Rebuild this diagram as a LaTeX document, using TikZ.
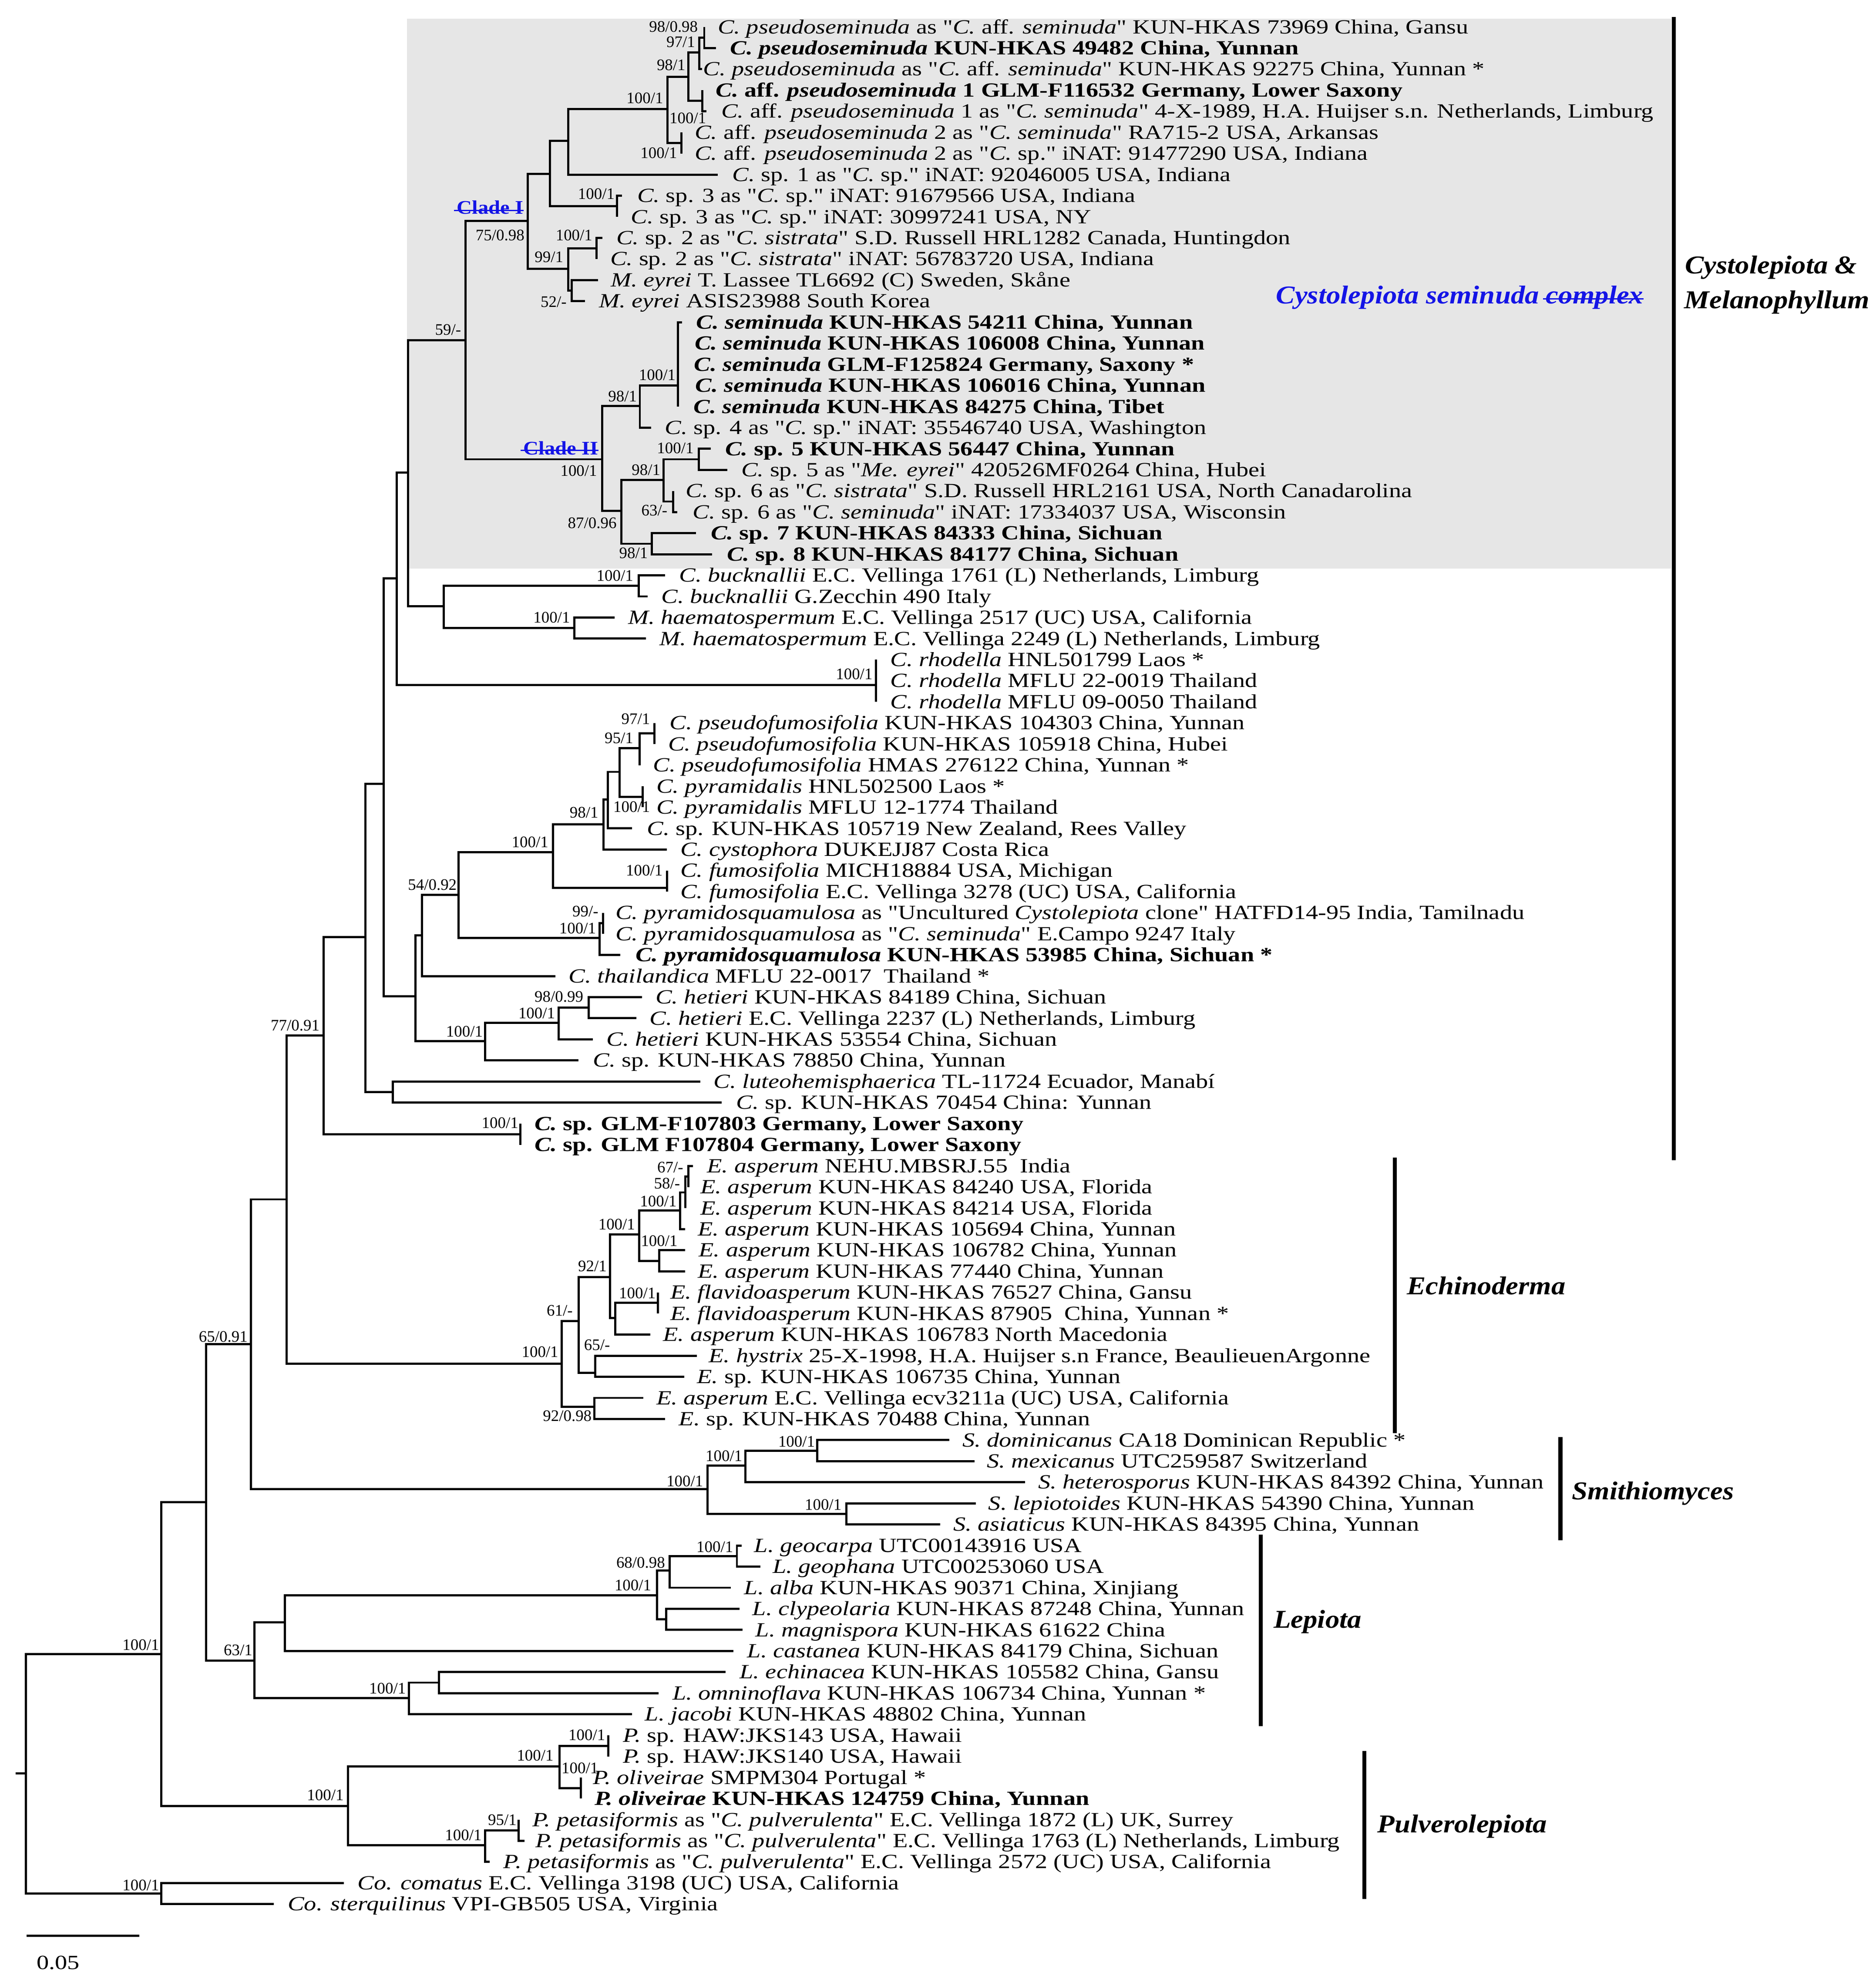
\documentclass[tikz,border=0pt]{standalone}
\usepackage{fontspec}
\setmainfont{Liberation Serif}
\newfontfamily\leaffont{Liberation Serif}[FakeStretch=1.22]
\newfontfamily\supfont{Liberation Serif}
\newfontfamily\grpfont{Liberation Serif}[FakeStretch=1.1]
\definecolor{boxgray}{RGB}{230,230,230}
\definecolor{cladeblue}{RGB}{20,20,230}
\newcommand{\rowy}[1]{(21.3+16.66*(#1-1))}
\newcommand{\leafrow}[4]{\coordinate (l#1) at (#2,{\rowy{#1}});
  \node[leaftext] (t#1) at (#3,{\rowy{#1}+5.2}) {#4};}
\newcommand{\supl}[4]{\node[suplabel] (#1) at (#2,#3) {#4};}
\newcommand{\brn}[2]{\draw[branch] (#1) |- (#2);}
\begin{document}
\begin{tikzpicture}[x=1pt,y=-1pt,
  branch/.style={line width=1.7pt, line join=miter},
  groupbar/.style={line width=3.2pt},
  leaftext/.style={anchor=base west, inner sep=0pt, font=\leaffont\fontsize{15.9}{17}\selectfont},
  suplabel/.style={anchor=east, inner sep=0pt, font=\supfont\fontsize{12.7}{13}\selectfont},
  grplabel/.style={anchor=west, inner sep=0pt, font=\grpfont\fontsize{20.3}{22}\selectfont\bfseries\itshape},
  cladelabel/.style={inner sep=0pt, text=cladeblue, font=\grpfont\fontsize{15.2}{16}\selectfont\bfseries},
  cmplx/.style={anchor=base west, inner sep=0pt, text=cladeblue, font=\grpfont\fontsize{20.3}{22}\selectfont\bfseries\itshape}]
\useasboundingbox (0,0) rectangle (1482.1,1566.4);
% shaded Cystolepiota seminuda complex
\fill[boxgray] (321.7,14.8) rectangle (1320.3,449.1);

% ---------------- internal nodes ----------------
\coordinate (C10) at (556.4,29.6);
\coordinate (C7) at (552.6,41.4);
\coordinate (C8) at (554.8,79.6);
\coordinate (C5) at (543.9,60.8);
\coordinate (C6) at (538.4,112.9);
\coordinate (C4) at (527.4,86.1);
\coordinate (C2) at (449.1,111.3);
\coordinate (C3) at (487.5,162.9);
\coordinate (C1) at (434.6,137.4);
\coordinate (C11) at (471.4,196.2);
\coordinate (C12) at (451.7,229.55);
\coordinate (C9) at (449.1,212.4);
\coordinate (CI) at (417.1,174.5);
\coordinate (D3) at (535.7,304.6);
\coordinate (D1) at (505.5,320.7);
\coordinate (D6) at (552.2,362.8);
\coordinate (D7) at (531.8,396.15);
\coordinate (D4) at (524.1,379.0);
\coordinate (D5) at (514.9,429.5);
\coordinate (D2) at (490.8,403.5);
\coordinate (CII) at (475.9,362.8);
\coordinate (G0) at (367.7,268.8);
\coordinate (BU) at (504.5,462.8);
\coordinate (HM) at (453.7,496.1);
\coordinate (HB) at (350.5,478.8);
\coordinate (A1) at (322.3,373.3);
\coordinate (RH) at (692.0,541.2);
\coordinate (A2) at (313.3,456.9);
\coordinate (F6) at (516.9,579.4);
\coordinate (F5) at (505.3,591.1);
\coordinate (PY) at (507.7,629.4);
\coordinate (F4) at (489.5,609.7);
\coordinate (F3) at (480.3,631.6);
\coordinate (F2) at (476.9,651.0);
\coordinate (FU) at (526.9,701.4);
\coordinate (F1) at (436.8,673.3);
\coordinate (PQ2) at (476.5,729.35);
\coordinate (PQ) at (473.7,740.9);
\coordinate (F0) at (362.4,706.9);
\coordinate (B2) at (333.4,738.7);
\coordinate (HE3) at (465.0,796.0);
\coordinate (HE2) at (441.3,808.1);
\coordinate (HE) at (383.4,822.4);
\coordinate (B1) at (328.1,786.9);
\coordinate (A3) at (303.1,619.2);
\coordinate (B5) at (310.5,862.6);
\coordinate (A4) at (288.7,740.2);
\coordinate (GLM) at (411.1,895.95);
\coordinate (A5) at (255.8,818.0);
\coordinate (E10) at (544.0,929.3);
\coordinate (E9) at (541.3,941.9);
\coordinate (E7) at (537.4,956.2);
\coordinate (E8) at (520.8,995.9);
\coordinate (E5) at (505.0,975.2);
\coordinate (E11) at (519.8,1029.2);
\coordinate (E6) at (486.1,1041.0);
\coordinate (E3) at (482.1,1008.8);
\coordinate (E4) at (470.3,1084.4);
\coordinate (E1) at (457.1,1043.4);
\coordinate (E2) at (469.5,1111.2);
\coordinate (E0) at (443.9,1077.2);
\coordinate (A6) at (226.3,947.4);
\coordinate (S3) at (645.7,1145.85);
\coordinate (S1) at (589.0,1157.6);
\coordinate (S2) at (668.6,1195.8);
\coordinate (S0) at (558.9,1176.3);
\coordinate (A7) at (198.4,1061.6);
\coordinate (L6) at (582.2,1229.15);
\coordinate (L4) at (529.2,1240.4);
\coordinate (L5) at (526.3,1279.1);
\coordinate (L3) at (519.0,1260.0);
\coordinate (L1) at (225.0,1281.6);
\coordinate (L7) at (346.9,1329.1);
\coordinate (L2) at (323.0,1341.4);
\coordinate (L0) at (201.1,1311.6);
\coordinate (A8) at (162.7,1186.5);
\coordinate (P3) at (480.5,1379.1);
\coordinate (P4) at (459.0,1412.4);
\coordinate (P1) at (442.1,1395.2);
\coordinate (P5) at (409.8,1445.7);
\coordinate (P2) at (383.1,1457.6);
\coordinate (P0) at (274.8,1426.7);
\coordinate (A9) at (127.4,1306.5);
\coordinate (CO) at (127.4,1495.7);
\coordinate (ROOT) at (20.6,1400.9);
\coordinate (RT) at (12.3,1400.9);

% ---------------- leaves ----------------
\leafrow{1}{556.4}{566.9}{\textit{C. pseudoseminuda} as "\textit{C.} aff. \textit{seminuda}" KUN-HKAS 73969 China, Gansu}
\leafrow{2}{565.7}{576.7}{\bfseries\textit{C. pseudoseminuda} KUN-HKAS 49482 China, Yunnan}
\leafrow{3}{554.8}{555.5}{\textit{C. pseudoseminuda} as "\textit{C.} aff. \textit{seminuda}" KUN-HKAS 92275 China, Yunnan *}
\leafrow{4}{554.8}{565.3}{\bfseries\textit{C.} aff. \textit{pseudoseminuda} 1 GLM-F116532 Germany, Lower Saxony}
\leafrow{5}{558.2}{569.7}{\textit{C.} aff. \textit{pseudoseminuda} 1 as "\textit{C. seminuda}" 4-X-1989, H.A. Huijser s.n. Netherlands, Limburg}
\leafrow{6}{538.4}{548.7}{\textit{C.} aff. \textit{pseudoseminuda} 2 as "\textit{C. seminuda}" RA715-2 USA, Arkansas}
\leafrow{7}{538.4}{548.7}{\textit{C.} aff. \textit{pseudoseminuda} 2 as "\textit{C.} sp." iNAT: 91477290 USA, Indiana}
\leafrow{8}{566.9}{578.5}{\textit{C.} sp. 1 as "\textit{C.} sp." iNAT: 92046005 USA, Indiana}
\leafrow{9}{491.5}{503.3}{\textit{C.} sp. 3 as "\textit{C.} sp." iNAT: 91679566 USA, Indiana}
\leafrow{10}{487.5}{498.4}{\textit{C.} sp. 3 as "\textit{C.} sp." iNAT: 30997241 USA, NY}
\leafrow{11}{475.8}{486.8}{\textit{C.} sp. 2 as "\textit{C. sistrata}" S.D. Russell HRL1282 Canada, Huntingdon}
\leafrow{12}{471.4}{482.0}{\textit{C.} sp. 2 as "\textit{C. sistrata}" iNAT: 56783720 USA, Indiana}
\leafrow{13}{472.5}{482.4}{\textit{M. eyrei} T. Lassee TL6692 (C) Sweden, Skåne}
\leafrow{14}{462.2}{473.2}{\textit{M. eyrei} ASIS23988 South Korea}
\leafrow{15}{538.8}{550.0}{\bfseries\textit{C. seminuda} KUN-HKAS 54211 China, Yunnan}
\leafrow{16}{535.7}{548.7}{\bfseries\textit{C. seminuda} KUN-HKAS 106008 China, Yunnan}
\leafrow{17}{535.7}{548.2}{\bfseries\textit{C. seminuda} GLM-F125824 Germany, Saxony *}
\leafrow{18}{535.7}{549.3}{\bfseries\textit{C. seminuda} KUN-HKAS 106016 China, Yunnan}
\leafrow{19}{535.7}{547.8}{\bfseries\textit{C. seminuda} KUN-HKAS 84275 China, Tibet}
\leafrow{20}{514.3}{525.2}{\textit{C.} sp. 4 as "\textit{C.} sp." iNAT: 35546740 USA, Washington}
\leafrow{21}{561.4}{572.8}{\bfseries\textit{C.} sp. 5 KUN-HKAS 56447 China, Yunnan}
\leafrow{22}{574.6}{585.5}{\textit{C.} sp. 5 as "\textit{Me. eyrei}" 420526MF0264 China, Hubei}
\leafrow{23}{531.8}{541.6}{\textit{C.} sp. 6 as "\textit{C. sistrata}" S.D. Russell HRL2161 USA, North Canadarolina}
\leafrow{24}{535.0}{547.1}{\textit{C.} sp. 6 as "\textit{C. seminuda}" iNAT: 17334037 USA, Wisconsin}
\leafrow{25}{550.0}{561.4}{\bfseries\textit{C.} sp. 7 KUN-HKAS 84333 China, Sichuan}
\leafrow{26}{562.5}{574.1}{\bfseries\textit{C.} sp. 8 KUN-HKAS 84177 China, Sichuan}
\leafrow{27}{525.5}{536.5}{\textit{C. bucknallii} E.C. Vellinga 1761 (L) Netherlands, Limburg}
\leafrow{28}{511.6}{522.4}{\textit{C. bucknallii} G.Zecchin 490 Italy}
\leafrow{29}{485.5}{496.1}{\textit{M. haematospermum} E.C. Vellinga 2517 (UC) USA, California}
\leafrow{30}{510.3}{521.1}{\textit{M. haematospermum} E.C. Vellinga 2249 (L) Netherlands, Limburg}
\leafrow{31}{692.0}{703.2}{\textit{C. rhodella} HNL501799 Laos *}
\leafrow{32}{692.0}{703.2}{\textit{C. rhodella} MFLU 22-0019 Thailand}
\leafrow{33}{692.0}{703.2}{\textit{C. rhodella} MFLU 09-0050 Thailand}
\leafrow{34}{516.9}{529.0}{\textit{C. pseudofumosifolia} KUN-HKAS 104303 China, Yunnan}
\leafrow{35}{516.9}{527.7}{\textit{C. pseudofumosifolia} KUN-HKAS 105918 China, Hubei}
\leafrow{36}{505.3}{515.8}{\textit{C. pseudofumosifolia} HMAS 276122 China, Yunnan *}
\leafrow{37}{507.7}{518.4}{\textit{C. pyramidalis} HNL502500 Laos *}
\leafrow{38}{507.7}{518.4}{\textit{C. pyramidalis} MFLU 12-1774 Thailand}
\leafrow{39}{499.2}{511.1}{\textit{C.} sp. KUN-HKAS 105719 New Zealand, Rees Valley}
\leafrow{40}{526.9}{537.4}{\textit{C. cystophora} DUKEJJ87 Costa Rica}
\leafrow{41}{526.9}{537.4}{\textit{C. fumosifolia} MICH18884 USA, Michigan}
\leafrow{42}{526.9}{537.4}{\textit{C. fumosifolia} E.C. Vellinga 3278 (UC) USA, California}
\leafrow{43}{476.5}{486.1}{\textit{C. pyramidosquamulosa} as "Uncultured \textit{Cystolepiota} clone" HATFD14-95 India, Tamilnadu}
\leafrow{44}{476.5}{486.1}{\textit{C. pyramidosquamulosa} as "\textit{C. seminuda}" E.Campo 9247 Italy}
\leafrow{45}{490.0}{501.9}{\bfseries\textit{C. pyramidosquamulosa} KUN-HKAS 53985 China, Sichuan *}
\leafrow{46}{438.7}{449.2}{\textit{C. thailandica} MFLU 22-0017\ \ Thailand *}
\leafrow{47}{507.1}{517.7}{\textit{C. hetieri} KUN-HKAS 84189 China, Sichuan}
\leafrow{48}{502.6}{513.2}{\textit{C. hetieri} E.C. Vellinga 2237 (L) Netherlands, Limburg}
\leafrow{49}{468.4}{479.0}{\textit{C. hetieri} KUN-HKAS 53554 China, Sichuan}
\leafrow{50}{457.1}{468.4}{\textit{C.} sp. KUN-HKAS 78850 China, Yunnan}
\leafrow{51}{553.2}{563.7}{\textit{C. luteohemisphaerica} TL-11724 Ecuador, Manabí}
\leafrow{52}{570.3}{581.6}{\textit{C.} sp. KUN-HKAS 70454 China: Yunnan}
\leafrow{53}{411.1}{422.1}{\bfseries\textit{C.} sp. GLM-F107803 Germany, Lower Saxony}
\leafrow{54}{411.1}{422.1}{\bfseries\textit{C.} sp. GLM F107804 Germany, Lower Saxony}
\leafrow{55}{547.4}{558.4}{\textit{E. asperum} NEHU.MBSRJ.55\ \ India}
\leafrow{56}{544.0}{553.2}{\textit{E. asperum} KUN-HKAS 84240 USA, Florida}
\leafrow{57}{541.3}{553.2}{\textit{E. asperum} KUN-HKAS 84214 USA, Florida}
\leafrow{58}{541.3}{551.1}{\textit{E. asperum} KUN-HKAS 105694 China, Yunnan}
\leafrow{59}{541.3}{551.9}{\textit{E. asperum} KUN-HKAS 106782 China, Yunnan}
\leafrow{60}{541.3}{551.1}{\textit{E. asperum} KUN-HKAS 77440 China, Yunnan}
\leafrow{61}{519.8}{529.5}{\textit{E. flavidoasperum} KUN-HKAS 76527 China, Gansu}
\leafrow{62}{519.8}{529.5}{\textit{E. flavidoasperum} KUN-HKAS 87905\ \ China, Yunnan *}
\leafrow{63}{513.7}{523.7}{\textit{E. asperum} KUN-HKAS 106783 North Macedonia}
\leafrow{64}{550.5}{559.8}{\textit{E. hystrix} 25-X-1998, H.A. Huijser s.n France, BeaulieuenArgonne}
\leafrow{65}{540.5}{550.5}{\textit{E.} sp. KUN-HKAS 106735 China, Yunnan}
\leafrow{66}{508.4}{518.4}{\textit{E. asperum} E.C. Vellinga ecv3211a (UC) USA, California}
\leafrow{67}{525.5}{536.1}{\textit{E.} sp. KUN-HKAS 70488 China, Yunnan}
\leafrow{68}{750.1}{760.2}{\textit{S. dominicanus} CA18 Dominican Republic *}
\leafrow{69}{769.9}{779.5}{\textit{S. mexicanus} UTC259587 Switzerland}
\leafrow{70}{810.0}{820.0}{\textit{S. heterosporus} KUN-HKAS 84392 China, Yunnan}
\leafrow{71}{771.1}{780.7}{\textit{S. lepiotoides} KUN-HKAS 54390 China, Yunnan}
\leafrow{72}{742.9}{753.0}{\textit{S. asiaticus} KUN-HKAS 84395 China, Yunnan}
\leafrow{73}{586.1}{595.7}{\textit{L. geocarpa} UTC00143916 USA}
\leafrow{74}{600.6}{610.2}{\textit{L. geophana} UTC00253060 USA}
\leafrow{75}{577.4}{587.8}{\textit{L. alba} KUN-HKAS 90371 China, Xinjiang}
\leafrow{76}{584.2}{594.3}{\textit{L. clypeolaria} KUN-HKAS 87248 China, Yunnan}
\leafrow{77}{586.6}{596.7}{\textit{L. magnispora} KUN-HKAS 61622 China}
\leafrow{78}{579.3}{590.2}{\textit{L. castanea} KUN-HKAS 84179 China, Sichuan}
\leafrow{79}{573.3}{584.2}{\textit{L. echinacea} KUN-HKAS 105582 China, Gansu}
\leafrow{80}{520.3}{531.1}{\textit{L. omninoflava} KUN-HKAS 106734 China, Yunnan *}
\leafrow{81}{499.3}{509.4}{\textit{L. jacobi} KUN-HKAS 48802 China, Yunnan}
\leafrow{82}{480.5}{492.0}{\textit{P.} sp. HAW:JKS143 USA, Hawaii}
\leafrow{83}{480.5}{492.0}{\textit{P.} sp. HAW:JKS140 USA, Hawaii}
\leafrow{84}{459.0}{468.2}{\textit{P. oliveirae} SMPM304 Portugal *}
\leafrow{85}{459.0}{469.7}{\bfseries\textit{P. oliveirae} KUN-HKAS 124759 China, Yunnan}
\leafrow{86}{409.8}{420.6}{\textit{P. petasiformis} as "\textit{C. pulverulenta}" E.C. Vellinga 1872 (L) UK, Surrey}
\leafrow{87}{414.5}{423.0}{\textit{P. petasiformis} as "\textit{C. pulverulenta}" E.C. Vellinga 1763 (L) Netherlands, Limburg}
\leafrow{88}{387.0}{397.6}{\textit{P. petasiformis} as "\textit{C. pulverulenta}" E.C. Vellinga 2572 (UC) USA, California}
\leafrow{89}{271.7}{282.4}{\textit{Co. comatus} E.C. Vellinga 3198 (UC) USA, California}
\leafrow{90}{216.4}{227.2}{\textit{Co. sterquilinus} VPI-GB505 USA, Virginia}

% ---------------- branches ----------------
\draw[branch] (RT) -- (ROOT);
\brn{ROOT}{A9} \brn{ROOT}{CO}
\brn{A9}{A8} \brn{A9}{P0}
\brn{A8}{A7} \brn{A8}{L0}
\brn{A7}{A6} \brn{A7}{S0}
\brn{A6}{A5} \brn{A6}{E0}
\brn{A5}{A4} \brn{A5}{GLM}
\brn{A4}{A3} \brn{A4}{B5}
\brn{A3}{A2} \brn{A3}{B1}
\brn{A2}{A1} \brn{A2}{RH}
\brn{A1}{G0} \brn{A1}{HB}
\brn{G0}{CI} \brn{G0}{CII}
\brn{CI}{C1} \brn{CI}{C9}
\brn{C1}{C2} \brn{C1}{C3}
\brn{C2}{C4} \brn{C2}{l8}
\brn{C4}{C5} \brn{C4}{C6}
\brn{C5}{C7} \brn{C5}{C8}
\brn{C7}{C10} \brn{C7}{l3}
\brn{C10}{l1} \brn{C10}{l2}
\brn{C8}{l4} \brn{C8}{l5}
\brn{C6}{l6} \brn{C6}{l7}
\brn{C3}{l9} \brn{C3}{l10}
\brn{C9}{C11} \brn{C9}{C12}
\brn{C11}{l11} \brn{C11}{l12}
\brn{C12}{l13} \brn{C12}{l14}
\brn{CII}{D1} \brn{CII}{D2}
\brn{D1}{D3} \brn{D1}{l20}
\brn{D3}{l15} \brn{D3}{l16} \brn{D3}{l17} \brn{D3}{l18} \brn{D3}{l19}
\brn{D2}{D4} \brn{D2}{D5}
\brn{D4}{D6} \brn{D4}{D7}
\brn{D6}{l21} \brn{D6}{l22}
\brn{D7}{l23} \brn{D7}{l24}
\brn{D5}{l25} \brn{D5}{l26}
\brn{HB}{BU} \brn{HB}{HM}
\brn{BU}{l27} \brn{BU}{l28}
\brn{HM}{l29} \brn{HM}{l30}
\brn{RH}{l31} \brn{RH}{l32} \brn{RH}{l33}
\brn{B1}{B2} \brn{B1}{HE}
\brn{B2}{F0} \brn{B2}{l46}
\brn{F0}{F1} \brn{F0}{PQ}
\brn{F1}{F2} \brn{F1}{FU}
\brn{F2}{F3} \brn{F2}{l40}
\brn{F3}{F4} \brn{F3}{l39}
\brn{F4}{F5} \brn{F4}{PY}
\brn{F5}{F6} \brn{F5}{l36}
\brn{F6}{l34} \brn{F6}{l35}
\brn{PY}{l37} \brn{PY}{l38}
\brn{FU}{l41} \brn{FU}{l42}
\brn{PQ}{PQ2} \brn{PQ}{l45}
\brn{PQ2}{l43} \brn{PQ2}{l44}
\brn{HE}{HE2} \brn{HE}{l50}
\brn{HE2}{HE3} \brn{HE2}{l49}
\brn{HE3}{l47} \brn{HE3}{l48}
\brn{B5}{l51} \brn{B5}{l52}
\brn{GLM}{l53} \brn{GLM}{l54}
\brn{E0}{E1} \brn{E0}{E2}
\brn{E1}{E3} \brn{E1}{E4}
\brn{E3}{E5} \brn{E3}{E6}
\brn{E5}{E7} \brn{E5}{E8}
\brn{E7}{E9} \brn{E7}{l58}
\brn{E9}{E10} \brn{E9}{l57}
\brn{E10}{l55} \brn{E10}{l56}
\brn{E8}{l59} \brn{E8}{l60}
\brn{E6}{E11} \brn{E6}{l63}
\brn{E11}{l61} \brn{E11}{l62}
\brn{E4}{l64} \brn{E4}{l65}
\brn{E2}{l66} \brn{E2}{l67}
\brn{S0}{S1} \brn{S0}{S2}
\brn{S1}{S3} \brn{S1}{l70}
\brn{S3}{l68} \brn{S3}{l69}
\brn{S2}{l71} \brn{S2}{l72}
\brn{L0}{L1} \brn{L0}{L2}
\brn{L1}{L3} \brn{L1}{l78}
\brn{L3}{L4} \brn{L3}{L5}
\brn{L4}{L6} \brn{L4}{l75}
\brn{L6}{l73} \brn{L6}{l74}
\brn{L5}{l76} \brn{L5}{l77}
\brn{L2}{L7} \brn{L2}{l81}
\brn{L7}{l79} \brn{L7}{l80}
\brn{P0}{P1} \brn{P0}{P2}
\brn{P1}{P3} \brn{P1}{P4}
\brn{P3}{l82} \brn{P3}{l83}
\brn{P4}{l84} \brn{P4}{l85}
\brn{P2}{P5} \brn{P2}{l88}
\brn{P5}{l86} \brn{P5}{l87}
\brn{CO}{l89} \brn{CO}{l90}

% ---------------- support values ----------------
\supl{s1}{551.5}{21.3}{98/0.98}
\supl{s2}{549.3}{33.2}{97/1}
\supl{s3}{541.7}{51.3}{98/1}
\supl{s4}{524.1}{77.4}{100/1}
\supl{s5}{558.1}{93.2}{100/1}
\supl{s6}{535.1}{120.8}{100/1}
\supl{s7}{485.8}{153.2}{100/1}
\supl{s8}{414.5}{186.0}{75/0.98}
\supl{s9}{468.2}{186.0}{100/1}
\supl{s10}{445.2}{202.9}{99/1}
\supl{s11}{447.8}{238.4}{52/-}
\supl{s12}{364.4}{260.4}{59/-}
\supl{s13}{533.9}{296.2}{100/1}
\supl{s14}{503.3}{313.0}{98/1}
\supl{s15}{471.9}{372.0}{100/1}
\supl{s16}{548.2}{354.1}{100/1}
\supl{s17}{521.9}{371.3}{98/1}
\supl{s18}{527.4}{403.3}{63/-}
\supl{s19}{487.3}{413.1}{87/0.96}
\supl{s20}{512.0}{437.0}{98/1}
\supl{s21}{500.5}{454.7}{100/1}
\supl{s22}{450.5}{487.6}{100/1}
\supl{s23}{689.5}{532.5}{100/1}
\supl{s24}{513.7}{568.0}{97/1}
\supl{s25}{500.5}{583.0}{95/1}
\supl{s26}{472.9}{641.7}{98/1}
\supl{s27}{513.7}{637.4}{100/1}
\supl{s28}{433.4}{665.2}{100/1}
\supl{s29}{523.7}{687.6}{100/1}
\supl{s30}{361.0}{698.8}{54/0.92}
\supl{s31}{472.9}{720.0}{99/-}
\supl{s32}{471.0}{733.2}{100/1}
\supl{s33}{252.6}{809.9}{77/0.91}
\supl{s34}{461.0}{787.3}{98/0.99}
\supl{s35}{438.7}{800.4}{100/1}
\supl{s36}{381.6}{814.7}{100/1}
\supl{s37}{409.7}{887.1}{100/1}
\supl{s38}{540.0}{922.2}{67/-}
\supl{s39}{537.4}{934.9}{58/-}
\supl{s40}{534.8}{948.9}{100/1}
\supl{s41}{501.9}{967.1}{100/1}
\supl{s42}{535.5}{980.3}{100/1}
\supl{s43}{479.5}{1000.0}{92/1}
\supl{s44}{518.2}{1021.3}{100/1}
\supl{s45}{452.6}{1035.1}{61/-}
\supl{s46}{482.1}{1062.5}{65/-}
\supl{s47}{441.3}{1068.0}{100/1}
\supl{s48}{467.6}{1118.4}{92/0.98}
\supl{s49}{195.8}{1055.9}{65/0.91}
\supl{s50}{555.7}{1169.9}{100/1}
\supl{s51}{586.6}{1150.0}{100/1}
\supl{s52}{644.0}{1138.6}{100/1}
\supl{s53}{665.0}{1188.6}{100/1}
\supl{s54}{514.7}{1252.3}{100/1}
\supl{s55}{525.6}{1234.2}{68/0.98}
\supl{s56}{579.4}{1222.0}{100/1}
\supl{s57}{199.6}{1303.6}{63/1}
\supl{s58}{320.8}{1333.7}{100/1}
\supl{s59}{125.9}{1299.3}{100/1}
\supl{s60}{271.7}{1418.1}{100/1}
\supl{s61}{437.5}{1386.6}{100/1}
\supl{s62}{478.3}{1370.5}{100/1}
\supl{s63}{472.8}{1396.7}{100/1}
\supl{s64}{380.7}{1449.6}{100/1}
\supl{s65}{408.3}{1437.6}{95/1}
\supl{s66}{125.9}{1489.1}{100/1}

% ---------------- clade labels (blue) ----------------
\node[cladelabel] (cl1) at (387.2,163.9) {Clade I};
\draw[cladeblue, line width=1.1pt] ([xshift=-2pt,yshift=-2.3pt]cl1.west) -- ([yshift=-2.3pt]cl1.east);
\node[cladelabel] (cl2) at (443.0,354.1) {Clade II};
\draw[cladeblue, line width=1.1pt] ([xshift=-2pt,yshift=-1.7pt]cl2.west) -- ([yshift=-1.7pt]cl2.east);
\node[cmplx] (cx1) at (1008,240) {Cystolepiota seminuda};
\node[cmplx] (cx2) at ([xshift=5pt]cx1.base east) {complex};
\draw[cladeblue, line width=1.1pt] ([xshift=-2pt,yshift=-1pt]cx2.west) -- ([yshift=-1pt]cx2.east);

% ---------------- group bars ----------------
\coordinate (gb1a) at (1322.5,13.4); \coordinate (gb1b) at (1322.5,916.5);
\coordinate (gb2a) at (1102,914.4); \coordinate (gb2b) at (1102,1131.9);
\coordinate (gb3a) at (1232.8,1135.2); \coordinate (gb3b) at (1232.8,1216.5);
\coordinate (gb4a) at (996,1212.3); \coordinate (gb4b) at (996,1363.6);
\coordinate (gb5a) at (1077.8,1383.2); \coordinate (gb5b) at (1077.8,1499.9);
\draw[groupbar] (gb1a) -- (gb1b);
\draw[groupbar] (gb2a) -- (gb2b);
\draw[groupbar] (gb3a) -- (gb3b);
\draw[groupbar] (gb4a) -- (gb4b);
\draw[groupbar] (gb5a) -- (gb5b);
\node[grplabel] (g1a) at (1331.1,211.2) {Cystolepiota \&};
\node[grplabel] (g1b) at (1330.5,238.9) {Melanophyllum};
\node[grplabel] (g2) at (1111.3,1015.7) {Echinoderma};
\node[grplabel] (g3) at (1241.8,1179.8) {Smithiomyces};
\node[grplabel] (g4) at (1006.0,1281.1) {Lepiota};
\node[grplabel] (g5) at (1088.1,1442.8) {Pulverolepiota};

% ---------------- scale bar ----------------
\coordinate (sb1) at (20.9,1529.2); \coordinate (sb2) at (109.9,1529.2);
\draw[branch] (sb1) -- (sb2);
\node[inner sep=0pt, font=\leaffont\fontsize{15.9}{17}\selectfont] (sbl) at (46.0,1550.4) {0.05};
\end{tikzpicture}
\end{document}
